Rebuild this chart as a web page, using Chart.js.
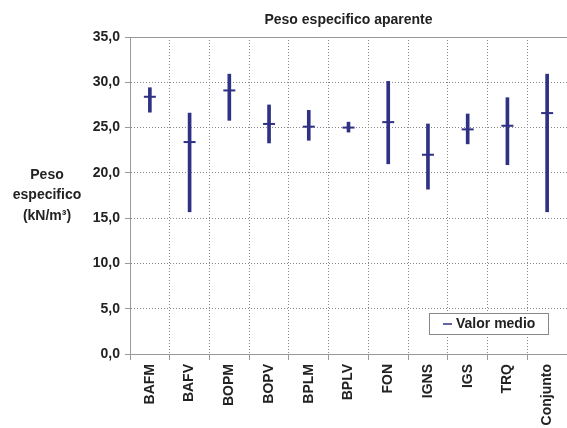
<!DOCTYPE html>
<html>
<head>
<meta charset="utf-8">
<script src="https://cdn.jsdelivr.net/npm/chart.js@4/dist/chart.umd.min.js"></script>
<style>
  html, body { margin: 0; padding: 0; background: #fff; overflow: hidden; }
  #wrap { position: absolute; left: 0; top: 0; width: 575px; height: 428px; }
</style>
</head>
<body>
<div id="wrap"><canvas id="chart"></canvas></div>
<script>
// data
const categories = ['BAFM', 'BAFV', 'BOPM', 'BOPV', 'BPLM', 'BPLV', 'FON', 'IGNS', 'IGS', 'TRQ', 'Conjunto'];
const minimos = [26.7, 15.7, 25.8, 23.3, 23.6, 24.5, 21.0, 18.2, 23.2, 20.9, 15.7];
const maximos = [29.4, 26.6, 30.9, 27.5, 26.9, 25.6, 30.1, 25.4, 26.5, 28.3, 30.9];
const medios = [28.4, 23.4, 29.1, 25.4, 25.1, 25.0, 25.6, 22.0, 24.8, 25.2, 26.6];
const yTicks = [0, 5, 10, 15, 20, 25, 30, 35];

const navy = '#2e3184';
const textColor = '#222';
const fontFamily = '"Liberation Sans", Arial, sans-serif';

// title, y axis label, top border and the legend box inside the plot
const extras = {
  id: 'extras',
  afterDraw(chart) {
    const c = chart.ctx;
    const a = chart.chartArea;
    c.save();

    // solid line at top
    c.strokeStyle = '#999';
    c.lineWidth = 1;
    c.beginPath();
    c.moveTo(a.left - 5, a.top + 0.5);
    c.lineTo(a.right, a.top + 0.5);
    c.stroke();

    c.fillStyle = textColor;
    c.textAlign = 'center';
    c.textBaseline = 'middle';
    c.font = 'bold 14px ' + fontFamily;
    c.fillText('Peso especifico aparente', (a.left + a.right) / 2, 20);

    // y axis title
    c.fillText('Peso', 47, 175);
    c.fillText('especifico', 47, 195);
    c.fillText('(kN/m³)', 47, 216);

    // legend
    const lx = 429, ly = 313, lw = 119, lh = 21;
    c.fillStyle = '#fff';
    c.fillRect(lx, ly, lw, lh);
    c.strokeStyle = '#888';
    c.strokeRect(lx + 0.5, ly + 0.5, lw, lh);
    c.strokeStyle = navy;
    c.lineWidth = 1.5;
    c.beginPath();
    c.moveTo(443, ly + lh / 2 + 0.5);
    c.lineTo(452, ly + lh / 2 + 0.5);
    c.stroke();
    c.fillStyle = textColor;
    c.textAlign = 'left';
    c.fillText('Valor medio', 456, ly + lh / 2 + 1);

    c.restore();
  }
};

new Chart(document.getElementById('chart'), {
  type: 'bar',
  data: {
    labels: categories,
    datasets: [
      {
        label: 'Rango',
        data: minimos.map((v, i) => [v, maximos[i]]),
        backgroundColor: navy,
        barThickness: 3,
        borderSkipped: false
      },
      {
        type: 'line',
        label: 'Valor medio',
        data: medios,
        showLine: false,
        pointStyle: 'line',
        pointRadius: 6,
        borderWidth: 2,
        borderColor: navy,
        backgroundColor: navy
      }
    ]
  },
  options: {
    responsive: true,
    maintainAspectRatio: false,
    animation: false,
    layout: { padding: { top: 37, right: 7, left: 0, bottom: 0 } },
    plugins: {
      legend: { display: false },
      tooltip: { enabled: false }
    },
    scales: {
      x: {
        offset: true,
        grid: { color: '#888', tickLength: 6, offset: true, tickColor: '#999' },
        border: { color: '#999', dash: [1, 2] },
        ticks: {
          minRotation: 90,
          maxRotation: 90,
          padding: 4,
          color: textColor,
          font: { family: fontFamily, size: 14, weight: 'bold' }
        },
        afterFit(scale) { scale.height = 74; }
      },
      y: {
        min: 0,
        max: 35,
        afterBuildTicks(scale) { scale.ticks = yTicks.map(v => ({ value: v })); },
        grid: { color: '#888', tickLength: 5, tickColor: '#999' },
        border: { color: '#999', dash: [1, 2] },
        ticks: {
          padding: 5,
          color: textColor,
          font: { family: fontFamily, size: 14, weight: 'bold' },
          callback: v => v.toFixed(1).replace('.', ',')
        },
        afterFit(scale) { scale.width = 130; }
      }
    }
  },
  plugins: [extras]
});
</script>
</body>
</html>
